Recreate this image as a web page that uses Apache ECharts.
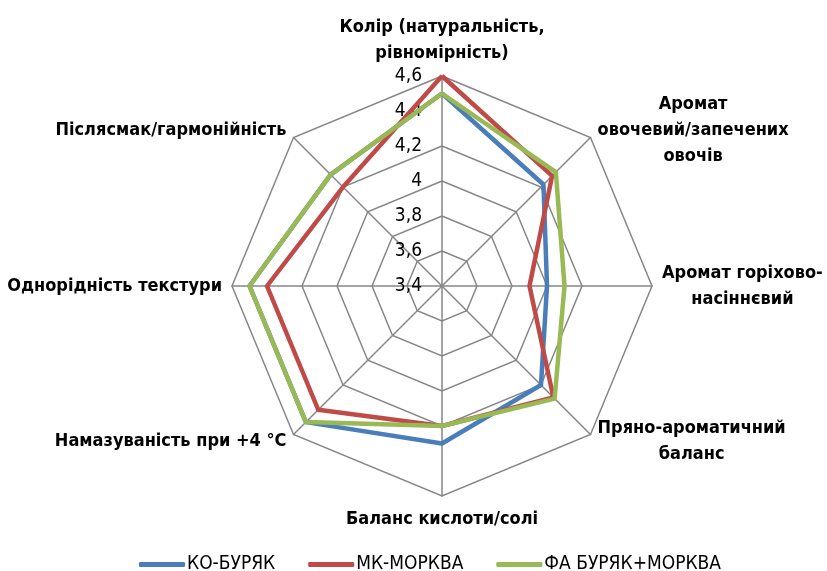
<!DOCTYPE html>
<html>
<head>
<meta charset="utf-8">
<script src="https://cdn.jsdelivr.net/npm/echarts@6/dist/echarts.min.js"></script>
<style>
  html, body { margin: 0; padding: 0; background: #fff; }
  #chart { width: 827px; height: 571px; }
</style>
</head>
<body>
<div id="chart"></div>
<script>
// criteria, clockwise from the top
const criteria = [
  'Колір (натуральність,\nрівномірність)',
  'Аромат\nовочевий/запечених\nовочів',
  'Аромат горіхово-\nнасіннєвий',
  'Пряно-ароматичний\nбаланс',
  'Баланс кислоти/солі',
  'Намазуваність при +4 °C',
  'Однорідність текстури',
  'Післясмак/гармонійність'
]
const seriesNames = ['КО-БУРЯК', 'МК-МОРКВА', 'ФА БУРЯК+МОРКВА']
const koBuryak = [4.5, 4.22, 4.0, 4.2, 4.3, 4.5, 4.5, 4.3]
const mkMorkva = [4.6, 4.29, 3.9, 4.3, 4.2, 4.4, 4.4, 4.2]
const faBuryakMorkva = [4.5, 4.32, 4.1, 4.31, 4.2, 4.5, 4.5, 4.3]
const scaleMin = 3.4
const scaleMax = 4.6
const scaleStep = 0.2

const colors = ['#4A7EBB', '#BE4B48', '#98B954']
const gridGray = '#868686'
const font = '"DejaVu Sans Condensed", "DejaVu Sans", sans-serif'

// echarts lays radar axes out counter-clockwise, so flip everything after the first one
const toEcharts = (arr) => [arr[0]].concat(arr.slice(1).reverse())

const center = [442, 286]
const radius = 210

const chart = echarts.init(document.getElementById('chart'))

const option = {
  animation: false,
  color: colors,
  legend: {
    top: 550,
    left: 134,
    icon: 'roundRect',
    itemWidth: 46,
    itemHeight: 5,
    itemGap: 33,
    textStyle: { fontFamily: font, fontSize: 19, color: '#000', padding: [0, 0, 0, -3] },
    data: seriesNames
  },
  // plain value axis only used to print the scale beside the top spoke
  grid: {
    left: center[0],
    top: center[1] - radius,
    width: 1,
    height: radius
  },
  xAxis: { type: 'value', show: false },
  yAxis: {
    type: 'value',
    min: scaleMin,
    max: scaleMax,
    interval: scaleStep,
    axisLine: { show: false },
    axisTick: { show: false },
    splitLine: { show: false },
    axisLabel: {
      margin: 20,
      fontFamily: font,
      fontSize: 19,
      color: '#000',
      formatter: (v) => String(v).replace('.', ',')
    }
  },
  radar: {
    center: center,
    radius: radius,
    startAngle: 90,
    shape: 'polygon',
    splitNumber: (scaleMax - scaleMin) / scaleStep,
    nameGap: 10,
    indicator: toEcharts(criteria).map(n => ({ name: n, min: scaleMin, max: scaleMax })),
    axisName: {
      color: '#000',
      fontFamily: font,
      fontWeight: 'bold',
      fontSize: 18,
      formatter: (name) => name.split('\n').map(l => '{c|' + l + '}').join('\n'),
      rich: {
        c: { align: 'center', fontFamily: font, fontWeight: 'bold', fontSize: 18, lineHeight: 26, color: '#000' }
      }
    },
    axisLine: { lineStyle: { color: gridGray, width: 1.5 } },
    splitLine: { lineStyle: { color: gridGray, width: 1.5 } },
    splitArea: { show: false },
    axisTick: { show: false },
    axisLabel: { show: false }
  },
  series: [{
    type: 'radar',
    symbol: 'none',
    lineStyle: { width: 4.5 },
    data: [
      { name: seriesNames[0], value: toEcharts(koBuryak), lineStyle: { color: colors[0] }, itemStyle: { color: colors[0] } },
      { name: seriesNames[1], value: toEcharts(mkMorkva), lineStyle: { color: colors[1] }, itemStyle: { color: colors[1] } },
      { name: seriesNames[2], value: toEcharts(faBuryakMorkva), lineStyle: { color: colors[2] }, itemStyle: { color: colors[2] } }
    ]
  }]
}

chart.setOption(option)
</script>
</body>
</html>
